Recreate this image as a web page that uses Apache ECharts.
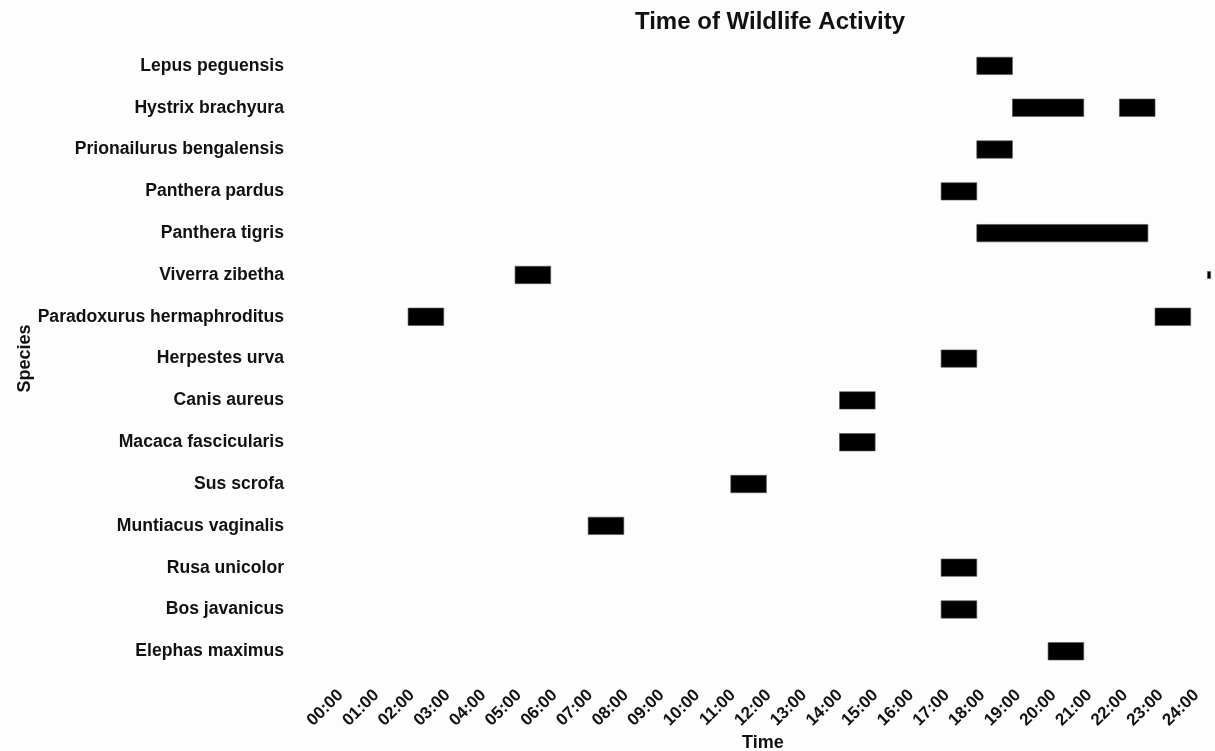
<!DOCTYPE html>
<html>
<head>
<meta charset="utf-8">
<script src="https://cdn.jsdelivr.net/npm/echarts@6/dist/echarts.min.js"></script>
<style>
html,body{margin:0;padding:0;background:#fdfdfd;}
#chart{width:1215px;height:751px;}
</style>
</head>
<body>
<div id="chart"></div>
<script>
// Species, top to bottom
const species = [
  'Lepus peguensis',
  'Hystrix brachyura',
  'Prionailurus bengalensis',
  'Panthera pardus',
  'Panthera tigris',
  'Viverra zibetha',
  'Paradoxurus hermaphroditus',
  'Herpestes urva',
  'Canis aureus',
  'Macaca fascicularis',
  'Sus scrofa',
  'Muntiacus vaginalis',
  'Rusa unicolor',
  'Bos javanicus',
  'Elephas maximus'
];

// Activity periods (hours of day)
const activitySpecies = [
  'Lepus peguensis', 'Hystrix brachyura', 'Hystrix brachyura', 'Prionailurus bengalensis',
  'Panthera pardus', 'Panthera tigris', 'Viverra zibetha', 'Paradoxurus hermaphroditus',
  'Paradoxurus hermaphroditus', 'Herpestes urva', 'Canis aureus', 'Macaca fascicularis',
  'Sus scrofa', 'Muntiacus vaginalis', 'Rusa unicolor', 'Bos javanicus', 'Elephas maximus'
];
const activityStart = [18, 19, 22, 18, 17, 18, 5.05, 2.05, 23, 17, 14.15, 14.15, 11.1, 7.1, 17, 17, 20];
const activityEnd   = [19, 21, 23, 19, 18, 22.8, 6.05, 3.05, 24, 18, 15.15, 15.15, 12.1, 8.1, 18, 18, 21];

// Small mark at the right edge (Viverra zibetha row)
const edgeSpecies = ['Viverra zibetha'];
const edgeStart = [24.47];
const edgeEnd = [24.56];

const tickLabels = ['00:00','01:00','02:00','03:00','04:00','05:00','06:00','07:00','08:00','09:00',
  '10:00','11:00','12:00','13:00','14:00','15:00','16:00','17:00','18:00','19:00','20:00',
  '21:00','22:00','23:00','24:00'];

const mainData = activitySpecies.map((s, i) => [species.indexOf(s), activityStart[i], activityEnd[i]]);
const edgeData = edgeSpecies.map((s, i) => [species.indexOf(s), edgeStart[i], edgeEnd[i]]);

function makeRender(frac, fixedH) {
  return function (params, api) {
    const cat = api.value(0);
    const s = api.coord([api.value(1), cat]);
    const e = api.coord([api.value(2), cat]);
    const h = fixedH || api.size([0, 1])[1] * frac;
    return {
      type: 'rect',
      shape: { x: s[0], y: s[1] - h / 2, width: e[0] - s[0], height: h },
      style: { fill: '#000', stroke: '#555', lineWidth: 0.6 }
    };
  };
}

const chart = echarts.init(document.getElementById('chart'), null, { renderer: 'canvas' });
const FONT = 'Liberation Sans, Arial, sans-serif';
chart.setOption({
  backgroundColor: '#fdfdfd',
  animation: false,
  title: {
    text: 'Time of Wildlife Activity',
    left: 765,
    top: 5,
    textAlign: 'center',
    textStyle: { fontFamily: FONT, fontSize: 24, fontWeight: 'bold', color: '#111' }
  },
  grid: { left: 335, right: 24.3, top: 45, bottom: 751 - 672.2, containLabel: false, outerBoundsMode: 'none' },
  xAxis: {
    type: 'value',
    min: 0, max: 24, interval: 1,
    name: 'Time',
    nameLocation: 'middle',
    nameGap: 62,
    nameMoveOverlap: false,
    nameTextStyle: { fontFamily: FONT, fontSize: 18, fontWeight: 'bold', color: '#111' },
    axisLine: { show: false },
    axisTick: { show: false },
    splitLine: { show: false },
    axisLabel: {
      rotate: 45,
      margin: 26,
      padding: [0, -8, 0, 0],
      fontFamily: FONT, fontSize: 17, fontWeight: 'bold', color: '#111',
      formatter: v => tickLabels[Math.round(v)] || ''
    }
  },
  yAxis: {
    type: 'category',
    inverse: true,
    data: species,
    name: 'Species',
    nameLocation: 'middle',
    nameGap: 301,
    nameMoveOverlap: false,
    nameTextStyle: { fontFamily: FONT, fontSize: 18, fontWeight: 'bold', color: '#111' },
    axisLine: { show: false },
    axisTick: { show: false },
    splitLine: { show: false },
    axisLabel: {
      margin: 51,
      fontFamily: FONT, fontSize: 17.6, fontWeight: 'bold', color: '#111'
    }
  },
  series: [
    {
      type: 'custom',
      renderItem: makeRender(0.416),
      encode: { x: [1, 2], y: 0 },
      clip: false,
      data: mainData
    },
    {
      type: 'custom',
      renderItem: makeRender(0, 7),
      encode: { x: [1, 2], y: 0 },
      clip: false,
      data: edgeData
    }
  ]
});
</script>
</body>
</html>
